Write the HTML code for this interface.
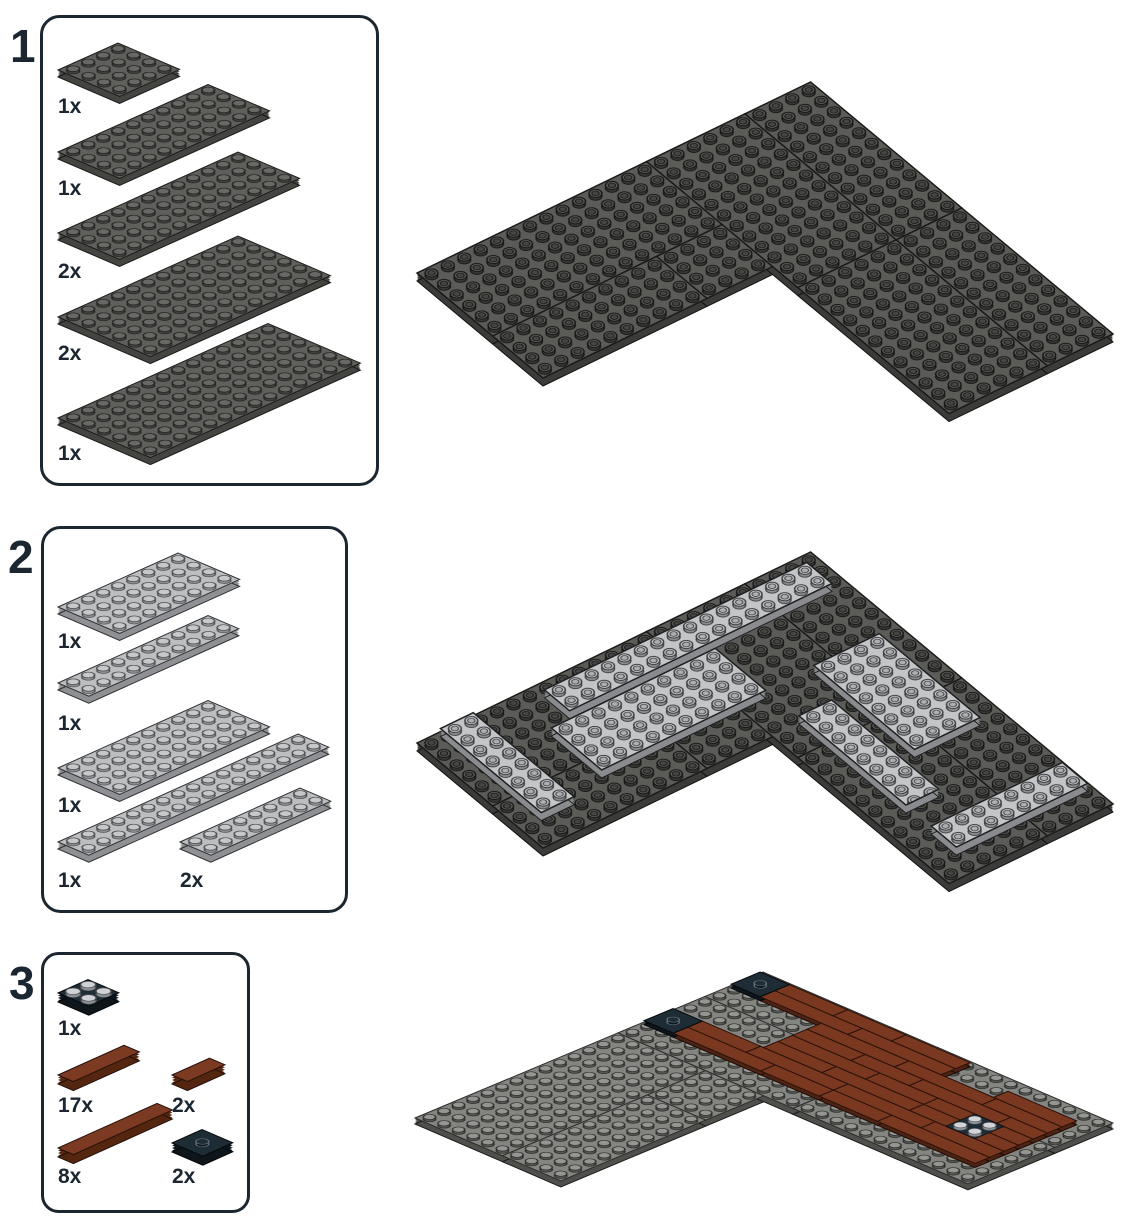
<!DOCTYPE html>
<html><head><meta charset="utf-8"><style>
html,body{margin:0;padding:0;background:#fff}
svg{display:block}
text{font-family:"Liberation Sans",Arial,sans-serif;font-weight:bold;fill:#1b2631}
</style></head><body>
<svg width="1122" height="1224" viewBox="0 0 1122 1224" xmlns="http://www.w3.org/2000/svg">
<defs>
<pattern id="s1" patternUnits="userSpaceOnUse" width="1" height="1">
<rect width="1" height="1" fill="#5b5c58"/>
<circle cx="0.43" cy="0.59" r="0.31" fill="#363734" stroke="#161615" stroke-width="0.06"/>
<circle cx="0.56" cy="0.42" r="0.31" fill="#5e5f5b" stroke="#161615" stroke-width="0.07"/>
<circle cx="0.56" cy="0.42" r="0.18" fill="#454643" stroke="#1c1c1a" stroke-width="0.06"/>
</pattern>
<pattern id="s1L" patternUnits="userSpaceOnUse" width="1" height="1">
<rect width="1" height="1" fill="#c4c5c7"/>
<circle cx="0.43" cy="0.59" r="0.31" fill="#8d8e91" stroke="#3a3b3e" stroke-width="0.06"/>
<circle cx="0.56" cy="0.42" r="0.31" fill="#cacbcd" stroke="#3a3b3e" stroke-width="0.07"/>
<circle cx="0.56" cy="0.42" r="0.18" fill="#aeafb2" stroke="#45464a" stroke-width="0.06"/>
</pattern>
<pattern id="s3" patternUnits="userSpaceOnUse" width="1" height="1">
<rect width="1" height="1" fill="#848581"/>
<circle cx="0.41" cy="0.59" r="0.3" fill="#555652" stroke="#2c2c2a" stroke-width="0.07"/>
<circle cx="0.59" cy="0.41" r="0.3" fill="#959692" stroke="#2c2c2a" stroke-width="0.07"/>
</pattern>
<pattern id="sp" patternUnits="userSpaceOnUse" width="1" height="1">
<rect width="1" height="1" fill="#5f605c"/>
<circle cx="0.41" cy="0.59" r="0.3" fill="#3f403d" stroke="#222220" stroke-width="0.06"/>
<circle cx="0.59" cy="0.41" r="0.3" fill="#686965" stroke="#222220" stroke-width="0.07"/>
</pattern>
<pattern id="spL" patternUnits="userSpaceOnUse" width="1" height="1">
<rect width="1" height="1" fill="#bdbec0"/>
<circle cx="0.41" cy="0.59" r="0.3" fill="#8c8d90" stroke="#4a4b4f" stroke-width="0.06"/>
<circle cx="0.59" cy="0.41" r="0.3" fill="#c7c8ca" stroke="#4a4b4f" stroke-width="0.07"/>
</pattern>

<g id="L">
<rect width="14" height="6" vector-effect="non-scaling-stroke"/>
<rect y="6" width="10" height="4" vector-effect="non-scaling-stroke"/>
<rect x="10" y="6" width="4" height="4" vector-effect="non-scaling-stroke"/>
<rect x="14" width="6" height="12" vector-effect="non-scaling-stroke"/>
<rect x="20" width="4" height="12" vector-effect="non-scaling-stroke"/>
<rect x="14" y="12" width="6" height="12" vector-effect="non-scaling-stroke"/>
<rect x="20" y="12" width="4" height="12" vector-effect="non-scaling-stroke"/>
</g>

<g id="LP">
<rect transform="translate(7,1)" width="16" height="2" vector-effect="non-scaling-stroke"/>
<rect transform="translate(5.5,3.5)" width="10" height="4" vector-effect="non-scaling-stroke"/>
<rect transform="translate(1.2,0.3)" width="2" height="8" vector-effect="non-scaling-stroke"/>
<rect transform="translate(18.5,7.4)" width="4" height="8" vector-effect="non-scaling-stroke"/>
<rect transform="translate(15.6,10)" width="2" height="8.5" vector-effect="non-scaling-stroke"/>
<rect transform="translate(15.6,20.5)" width="8" height="2" vector-effect="non-scaling-stroke"/>
</g>

<g id="PD">
<rect transform="matrix(15,-6.75,15.4,6.6,58,70)" width="4" height="4" vector-effect="non-scaling-stroke"/>
<rect transform="matrix(15,-6.75,15.4,6.6,58,152)" width="10" height="4" vector-effect="non-scaling-stroke"/>
<rect transform="matrix(15,-6.75,15.4,6.6,58,233)" width="12" height="4" vector-effect="non-scaling-stroke"/>
<rect transform="matrix(15,-6.75,15.4,6.6,58,317)" width="12" height="6" vector-effect="non-scaling-stroke"/>
<rect transform="matrix(15,-6.75,15.4,6.6,58,418)" width="14" height="6" vector-effect="non-scaling-stroke"/>
</g>
<g id="PL">
<rect transform="matrix(15,-6.75,15.4,6.6,58,607)" width="8" height="4" vector-effect="non-scaling-stroke"/>
<rect transform="matrix(15,-6.75,15.4,6.6,58,683)" width="10" height="2" vector-effect="non-scaling-stroke"/>
<rect transform="matrix(15,-6.75,15.4,6.6,58,768)" width="10" height="4" vector-effect="non-scaling-stroke"/>
<rect transform="matrix(15,-6.75,15.4,6.6,58,842)" width="16" height="2" vector-effect="non-scaling-stroke"/>
<rect transform="matrix(15,-6.75,15.4,6.6,180,842)" width="8" height="2" vector-effect="non-scaling-stroke"/>
</g>
<g id="PT">
<rect transform="matrix(15,-6.75,15.4,6.6,58,1075)" width="4.4" height="1" vector-effect="non-scaling-stroke"/>
<rect transform="matrix(15,-6.75,15.4,6.6,172,1075)" width="2.5" height="1" vector-effect="non-scaling-stroke"/>
<rect transform="matrix(15,-6.75,15.4,6.6,58,1148)" width="6.6" height="1" vector-effect="non-scaling-stroke"/>
</g>
<g id="PB">
<rect transform="matrix(15,-6.75,15.4,6.6,58,993)" width="2" height="2" vector-effect="non-scaling-stroke"/>
<rect transform="matrix(15,-6.75,15.4,6.6,172,1143)" width="2" height="2" vector-effect="non-scaling-stroke"/>
</g>

<g id="T3">
<rect x="15.5" y="2.3" width="1" height="6" vector-effect="non-scaling-stroke"/>
<rect x="15.5" y="8.3" width="1" height="4" vector-effect="non-scaling-stroke"/>
<rect x="15.5" y="12.3" width="1" height="4" vector-effect="non-scaling-stroke"/>
<rect x="15.5" y="16.3" width="1" height="6.7" vector-effect="non-scaling-stroke"/>
<rect x="16.5" y="2.3" width="1" height="4" vector-effect="non-scaling-stroke"/>
<rect x="16.5" y="6.3" width="1" height="6" vector-effect="non-scaling-stroke"/>
<rect x="16.5" y="12.3" width="1" height="6" vector-effect="non-scaling-stroke"/>
<rect x="16.5" y="18.3" width="1" height="4.7" vector-effect="non-scaling-stroke"/>
<rect x="17.5" y="6.5" width="1" height="4" vector-effect="non-scaling-stroke"/>
<rect x="17.5" y="10.5" width="1" height="6" vector-effect="non-scaling-stroke"/>
<rect x="17.5" y="16.5" width="1" height="6.5" vector-effect="non-scaling-stroke"/>
<rect x="18.5" y="6.5" width="1" height="6" vector-effect="non-scaling-stroke"/>
<rect x="18.5" y="12.5" width="1" height="4" vector-effect="non-scaling-stroke"/>
<rect x="18.5" y="16.5" width="1" height="6.5" vector-effect="non-scaling-stroke"/>
<rect x="19.5" y="6.5" width="1" height="4" vector-effect="non-scaling-stroke"/>
<rect x="19.5" y="10.5" width="1" height="4" vector-effect="non-scaling-stroke"/>
<rect x="19.5" y="14.5" width="1" height="6" vector-effect="non-scaling-stroke"/>
<rect x="19.5" y="20.5" width="1" height="2.5" vector-effect="non-scaling-stroke"/>
<rect x="20.5" y="6.5" width="1" height="6" vector-effect="non-scaling-stroke"/>
<rect x="20.5" y="12.5" width="1" height="6" vector-effect="non-scaling-stroke"/>
<rect x="20.5" y="18.5" width="1" height="4.5" vector-effect="non-scaling-stroke"/>
<rect x="21.5" y="2.3" width="1" height="6" vector-effect="non-scaling-stroke"/>
<rect x="21.5" y="8.3" width="1" height="6.4" vector-effect="non-scaling-stroke"/>
<rect x="21.5" y="18.3" width="1" height="4.7" vector-effect="non-scaling-stroke"/>
<rect x="22.5" y="2.3" width="1" height="4" vector-effect="non-scaling-stroke"/>
<rect x="22.5" y="6.3" width="1" height="4" vector-effect="non-scaling-stroke"/>
<rect x="22.5" y="10.3" width="1" height="4.4" vector-effect="non-scaling-stroke"/>
</g>
<g id="J3">
<rect x="15.5" y="0.3" width="2" height="2" vector-effect="non-scaling-stroke"/>
<rect x="21.5" y="0.3" width="2" height="2" vector-effect="non-scaling-stroke"/>
</g>
</defs>

<!-- boxes -->
<rect x="41.5" y="16.5" width="336" height="468" rx="18" fill="none" stroke="#1b2631" stroke-width="3"/>
<rect x="42.5" y="527.5" width="304" height="384" rx="18" fill="none" stroke="#1b2631" stroke-width="3"/>
<rect x="42.5" y="953.5" width="206" height="258" rx="16" fill="none" stroke="#1b2631" stroke-width="3"/>
<text x="10" y="62" font-size="46">1</text>
<text x="8" y="573" font-size="46">2</text>
<text x="9" y="999" font-size="46">3</text>

<!-- parts box1 -->
<g><use href="#PD" fill="#444541" transform="translate(0,2)"/><use href="#PD" fill="#444541" transform="translate(0,4)"/><use href="#PD" fill="#444541" transform="translate(0,5.5)"/></g>
<use href="#PD" fill="#444541" stroke="#1a1a19" stroke-width="1" transform="translate(0,7)"/>
<use href="#PD" fill="url(#sp)" stroke="#1a1a19" stroke-width="1"/>
<text x="58" y="113" font-size="21">1x</text>
<text x="58" y="195" font-size="21">1x</text>
<text x="58" y="278" font-size="21">2x</text>
<text x="58" y="360" font-size="21">2x</text>
<text x="58" y="460" font-size="21">1x</text>

<!-- parts box2 -->
<g><use href="#PL" fill="#8f9093" transform="translate(0,2)"/><use href="#PL" fill="#8f9093" transform="translate(0,4)"/><use href="#PL" fill="#8f9093" transform="translate(0,5.5)"/></g>
<use href="#PL" fill="#8f9093" stroke="#2e2f32" stroke-width="1" transform="translate(0,7)"/>
<use href="#PL" fill="url(#spL)" stroke="#2e2f32" stroke-width="1"/>
<text x="58" y="648" font-size="21">1x</text>
<text x="58" y="730" font-size="21">1x</text>
<text x="58" y="812" font-size="21">1x</text>
<text x="58" y="887" font-size="21">1x</text>
<text x="180" y="887" font-size="21">2x</text>

<!-- parts box3 -->
<g><use href="#PT" fill="#55260f" transform="translate(0,2.5)"/><use href="#PT" fill="#55260f" transform="translate(0,5)"/><use href="#PT" fill="#55260f" transform="translate(0,7.5)"/></g>
<use href="#PT" fill="#55260f" stroke="#24110a" stroke-width="1" transform="translate(0,9)"/>
<use href="#PT" fill="#7b3a21" stroke="#24110a" stroke-width="1"/>
<g><use href="#PB" fill="#0e151b" transform="translate(0,2.5)"/><use href="#PB" fill="#0e151b" transform="translate(0,5)"/><use href="#PB" fill="#0e151b" transform="translate(0,7.5)"/></g>
<use href="#PB" fill="#0e151b" stroke="#05080a" stroke-width="1" transform="translate(0,9)"/>
<use href="#PB" fill="#1e2c36" stroke="#05080a" stroke-width="1"/>
<g transform="matrix(15,-6.75,15.4,6.6,58,993)" stroke="#4a4d52" stroke-width="0.07">
<circle cx="0.4" cy="0.6" r="0.35" fill="#8d9095"/><circle cx="0.62" cy="0.38" r="0.35" fill="#cfd1d4"/>
<circle cx="1.4" cy="0.6" r="0.35" fill="#8d9095"/><circle cx="1.62" cy="0.38" r="0.35" fill="#cfd1d4"/>
<circle cx="0.4" cy="1.6" r="0.35" fill="#8d9095"/><circle cx="0.62" cy="1.38" r="0.35" fill="#cfd1d4"/>
<circle cx="1.4" cy="1.6" r="0.35" fill="#8d9095"/><circle cx="1.62" cy="1.38" r="0.35" fill="#cfd1d4"/>
</g>
<g transform="matrix(15,-6.75,15.4,6.6,172,1143)" stroke="#5d6a74" stroke-width="0.07">
<circle cx="0.92" cy="1.08" r="0.3" fill="#0e151b"/><circle cx="1.1" cy="0.9" r="0.3" fill="#1e2c36"/>
</g>
<text x="58" y="1035" font-size="21">1x</text>
<text x="58" y="1112" font-size="21">17x</text>
<text x="172" y="1112" font-size="21">2x</text>
<text x="58" y="1183" font-size="21">8x</text>
<text x="172" y="1183" font-size="21">2x</text>

<!-- step 1 assembly -->
<g>
<use href="#L" fill="#3b3c39" transform="translate(0,2) matrix(16.4,-7.96,12.6,10.5,417,273)"/>
<use href="#L" fill="#3b3c39" transform="translate(0,4) matrix(16.4,-7.96,12.6,10.5,417,273)"/>
<use href="#L" fill="#3b3c39" transform="translate(0,6) matrix(16.4,-7.96,12.6,10.5,417,273)"/>
<use href="#L" fill="#3b3c39" stroke="#121211" stroke-width="1" transform="translate(0,8) matrix(16.4,-7.96,12.6,10.5,417,273)"/>
<use href="#L" fill="url(#s1)" stroke="#1a1a18" stroke-width="1.5" transform="matrix(16.4,-7.96,12.6,10.5,417,273)"/>
</g>

<!-- step 2 assembly -->
<g>
<use href="#L" fill="#3b3c39" transform="translate(0,472) matrix(16.4,-7.96,12.6,10.5,417,273)"/>
<use href="#L" fill="#3b3c39" transform="translate(0,474) matrix(16.4,-7.96,12.6,10.5,417,273)"/>
<use href="#L" fill="#3b3c39" transform="translate(0,476) matrix(16.4,-7.96,12.6,10.5,417,273)"/>
<use href="#L" fill="#3b3c39" stroke="#121211" stroke-width="1" transform="translate(0,478) matrix(16.4,-7.96,12.6,10.5,417,273)"/>
<use href="#L" fill="url(#s1)" stroke="#1a1a18" stroke-width="1.5" transform="translate(0,470) matrix(16.4,-7.96,12.6,10.5,417,273)"/>
<use href="#LP" fill="#8a8b8e" transform="translate(0,464) matrix(16.4,-7.96,12.6,10.5,417,273)"/>
<use href="#LP" fill="#8a8b8e" transform="translate(0,466) matrix(16.4,-7.96,12.6,10.5,417,273)"/>
<use href="#LP" fill="#8a8b8e" transform="translate(0,468) matrix(16.4,-7.96,12.6,10.5,417,273)"/>
<use href="#LP" fill="#8a8b8e" stroke="#1f2022" stroke-width="1" transform="translate(0,470) matrix(16.4,-7.96,12.6,10.5,417,273)"/>
<use href="#LP" fill="url(#s1L)" stroke="#1f2022" stroke-width="1.5" transform="translate(0,462) matrix(16.4,-7.96,12.6,10.5,417,273)"/>
</g>

<!-- step 3 assembly -->
<g>
<use href="#L" fill="#4f504c" transform="translate(0,1.5) matrix(14.5,-6.08,14.58,6.29,415,1118)"/>
<use href="#L" fill="#4f504c" transform="translate(0,3) matrix(14.5,-6.08,14.58,6.29,415,1118)"/>
<use href="#L" fill="#4f504c" transform="translate(0,4.5) matrix(14.5,-6.08,14.58,6.29,415,1118)"/>
<use href="#L" fill="#4f504c" stroke="#1c1c1b" stroke-width="1" transform="translate(0,6) matrix(14.5,-6.08,14.58,6.29,415,1118)"/>
<use href="#L" fill="url(#s3)" stroke="#2a2a28" stroke-width="1" transform="matrix(14.5,-6.08,14.58,6.29,415,1118)"/>
<use href="#T3" fill="#4e2313" transform="translate(0,-3.75) matrix(14.5,-6.08,14.58,6.29,415,1118)"/>
<use href="#T3" fill="#4e2313" transform="translate(0,-2.5) matrix(14.5,-6.08,14.58,6.29,415,1118)"/>
<use href="#T3" fill="#4e2313" stroke="#1e0d06" stroke-width="1" transform="translate(0,-1) matrix(14.5,-6.08,14.58,6.29,415,1118)"/>
<use href="#J3" fill="#0e151b" transform="translate(0,-3) matrix(14.5,-6.08,14.58,6.29,415,1118)"/>
<use href="#J3" fill="#0e151b" stroke="#05080a" stroke-width="1" transform="translate(0,-1) matrix(14.5,-6.08,14.58,6.29,415,1118)"/>
<use href="#T3" fill="#7a3820" stroke="#2a1209" stroke-width="1" transform="translate(0,-5) matrix(14.5,-6.08,14.58,6.29,415,1118)"/>
<use href="#J3" fill="#1e2c36" stroke="#05080a" stroke-width="1" transform="translate(0,-5) matrix(14.5,-6.08,14.58,6.29,415,1118)"/>
<g transform="translate(0,-5) matrix(14.5,-6.08,14.58,6.29,415,1118)" stroke-width="0.06">
<rect x="17.5" y="19" width="2" height="2" fill="#1e2c36" stroke="#05080a"/>
<g stroke="#4a4d52">
<circle cx="17.9" cy="19.6" r="0.33" fill="#8d9095"/><circle cx="18.1" cy="19.4" r="0.33" fill="#d2d4d7"/>
<circle cx="18.9" cy="19.6" r="0.33" fill="#8d9095"/><circle cx="19.1" cy="19.4" r="0.33" fill="#d2d4d7"/>
<circle cx="17.9" cy="20.6" r="0.33" fill="#8d9095"/><circle cx="18.1" cy="20.4" r="0.33" fill="#d2d4d7"/>
<circle cx="18.9" cy="20.6" r="0.33" fill="#8d9095"/><circle cx="19.1" cy="20.4" r="0.33" fill="#d2d4d7"/>
</g>
<g stroke="#6a7780">
<circle cx="16.4" cy="1.4" r="0.3" fill="#0e151b"/><circle cx="16.6" cy="1.2" r="0.3" fill="#1e2c36"/>
<circle cx="22.4" cy="1.4" r="0.3" fill="#0e151b"/><circle cx="22.6" cy="1.2" r="0.3" fill="#1e2c36"/>
</g>
</g>
</g>
</svg>
</body></html>
